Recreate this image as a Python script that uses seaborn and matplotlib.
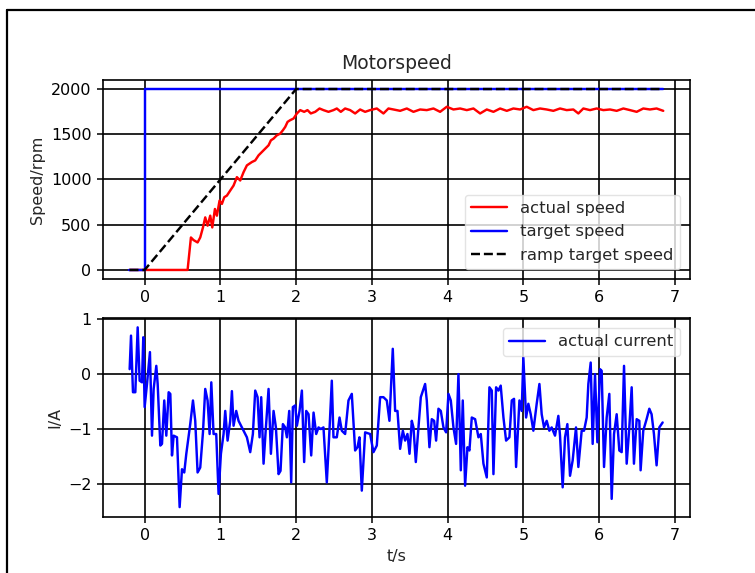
import matplotlib
matplotlib.use("Agg")
import matplotlib.pyplot as plt
from matplotlib.lines import Line2D
import seaborn as sns

# Speed signals (rpm)
target_t = [-0.2, 0.0, 0.0, 6.85]
target_speed = [0, 0, 2000, 2000]

ramp_t = [-0.2, 0.0, 2.0, 6.85]
ramp_speed = [0, 0, 2000, 2000]

actual_t = [-0.2, 0.0, 0.567, 0.611, 0.646, 0.699, 0.734, 0.770, 0.800, 0.831,
            0.866, 0.893, 0.928, 0.954, 0.989, 1.020, 1.051, 1.086, 1.130, 1.174,
            1.218, 1.262, 1.306, 1.350, 1.416, 1.460, 1.504, 1.548, 1.592, 1.636,
            1.667, 1.702, 1.746, 1.790, 1.825, 1.856, 1.887, 1.922, 1.966, 2.010,
            2.054, 2.106, 2.150, 2.194, 2.252, 2.309, 2.361, 2.427, 2.493, 2.537,
            2.590, 2.647, 2.713, 2.779, 2.845, 2.911, 2.977, 3.065, 3.153, 3.219,
            3.285, 3.373, 3.461, 3.549, 3.637, 3.725, 3.813, 3.901, 3.989, 4.077,
            4.165, 4.253, 4.341, 4.429, 4.517, 4.605, 4.693, 4.781, 4.868, 4.957,
            5.044, 5.132, 5.220, 5.308, 5.396, 5.484, 5.572, 5.660, 5.726, 5.792,
            5.880, 5.968, 6.056, 6.144, 6.232, 6.320, 6.408, 6.496, 6.583, 6.671,
            6.759, 6.847]
actual_speed = [0, 0, 0, 359, 330, 304, 359, 470, 581, 489,
                600, 470, 674, 600, 767, 730, 804, 822, 878, 933,
                1026, 989, 1081, 1156, 1193, 1211, 1267, 1304, 1341, 1378,
                1433, 1452, 1489, 1507, 1544, 1581, 1637, 1656, 1674, 1730,
                1767, 1748, 1767, 1730, 1748, 1785, 1767, 1748, 1767, 1785,
                1748, 1785, 1767, 1730, 1774, 1748, 1767, 1785, 1730, 1785,
                1774, 1759, 1785, 1748, 1774, 1767, 1785, 1748, 1804, 1774,
                1785, 1767, 1785, 1730, 1774, 1748, 1785, 1759, 1785, 1774,
                1804, 1767, 1785, 1774, 1759, 1785, 1767, 1774, 1730, 1785,
                1767, 1785, 1767, 1774, 1759, 1785, 1767, 1748, 1785, 1774,
                1785, 1759]

# Phase current (A)
current_t = [-0.198, -0.180, -0.154, -0.123, -0.092, -0.066, -0.035, -0.018, 0.000, 0.031,
             0.070, 0.097, 0.119, 0.154, 0.172, 0.207, 0.229, 0.259, 0.286, 0.317,
             0.339, 0.361, 0.383, 0.427, 0.462, 0.493, 0.523, 0.550, 0.602, 0.638,
             0.668, 0.699, 0.734, 0.770, 0.800, 0.831, 0.858, 0.880, 0.910, 0.945,
             0.976, 1.007, 1.042, 1.064, 1.095, 1.130, 1.152, 1.174, 1.209, 1.240,
             1.284, 1.350, 1.394, 1.429, 1.460, 1.491, 1.517, 1.539, 1.570, 1.601,
             1.636, 1.667, 1.702, 1.733, 1.768, 1.794, 1.825, 1.856, 1.878, 1.909,
             1.935, 1.957, 1.988, 2.010, 2.045, 2.076, 2.106, 2.133, 2.164, 2.199,
             2.230, 2.265, 2.296, 2.326, 2.361, 2.405, 2.441, 2.471, 2.493, 2.537,
             2.573, 2.603, 2.647, 2.691, 2.735, 2.779, 2.810, 2.836, 2.867, 2.911,
             2.977, 3.021, 3.065, 3.109, 3.153, 3.197, 3.232, 3.276, 3.307, 3.338,
             3.373, 3.409, 3.439, 3.470, 3.497, 3.527, 3.549, 3.580, 3.615, 3.646,
             3.703, 3.725, 3.760, 3.791, 3.822, 3.848, 3.879, 3.910, 3.945, 3.980,
             4.011, 4.042, 4.077, 4.112, 4.143, 4.174, 4.200, 4.231, 4.262, 4.288,
             4.319, 4.363, 4.407, 4.438, 4.473, 4.517, 4.552, 4.583, 4.605, 4.640,
             4.671, 4.701, 4.737, 4.772, 4.816, 4.847, 4.877, 4.904, 4.948, 4.978,
             5.000, 5.036, 5.066, 5.097, 5.132, 5.176, 5.212, 5.242, 5.273, 5.308,
             5.343, 5.374, 5.418, 5.462, 5.484, 5.519, 5.550, 5.581, 5.616, 5.651,
             5.695, 5.726, 5.770, 5.801, 5.836, 5.858, 5.889, 5.915, 5.946, 5.977,
             6.012, 6.034, 6.065, 6.100, 6.135, 6.166, 6.197, 6.232, 6.267, 6.298,
             6.329, 6.364, 6.399, 6.430, 6.460, 6.496, 6.531, 6.548, 6.583, 6.627,
             6.663, 6.693, 6.724, 6.759, 6.795, 6.839]
current_a = [0.09, 0.70, -0.33, -0.33, 0.85, -0.12, -0.15, 0.67, -0.60, -0.18,
             0.40, -1.12, -0.27, 0.15, -0.18, -1.30, -1.27, -0.48, -1.12, -0.33,
             -0.36, -1.48, -1.12, -1.15, -2.42, -1.73, -1.79, -1.45, -0.91, -0.48,
             -0.85, -1.79, -1.70, -1.06, -0.27, -0.48, -1.09, -0.15, -1.09, -1.09,
             -2.18, -1.45, -1.09, -0.67, -1.21, -0.85, -0.31, -0.94, -0.67, -0.85,
             -0.97, -1.15, -1.42, -1.09, -0.30, -0.42, -1.15, -0.42, -1.63, -0.97,
             -0.27, -1.45, -0.67, -0.97, -1.82, -1.76, -0.91, -0.97, -1.15, -0.67,
             -1.97, -0.60, -0.57, -0.94, -0.67, -0.30, -1.60, -0.67, -0.73, -1.48,
             -0.70, -1.09, -0.97, -1.00, -0.97, -1.97, -1.00, -0.12, -1.15, -1.15,
             -0.79, -1.03, -1.09, -0.48, -0.36, -1.39, -1.33, -1.15, -2.12, -1.06,
             -1.09, -1.42, -1.30, -0.42, -0.42, -0.48, -0.85, 0.46, -0.67, -0.67,
             -1.36, -1.03, -1.21, -1.09, -1.45, -0.85, -0.97, -1.60, -0.97, -0.42,
             -0.18, -0.48, -1.33, -0.82, -0.85, -1.21, -0.63, -0.67, -0.97, -1.06,
             -0.36, -0.48, -0.97, -1.27, 0.00, -1.75, -0.48, -2.03, -1.33, -1.39,
             -0.79, -0.82, -1.15, -1.09, -1.63, -1.88, -0.24, -0.30, -1.82, -0.24,
             -0.30, -0.21, -0.79, -1.21, -1.15, -0.48, -0.45, -1.69, -0.48, -0.67,
             0.30, -0.79, -0.54, -0.73, -1.03, -0.54, -0.18, -0.73, -0.97, -0.85,
             -1.03, -0.97, -1.12, -0.76, -1.12, -2.06, -1.15, -0.91, -1.85, -1.57,
             -0.97, -1.69, -1.03, -1.03, -0.79, -0.18, 0.21, -1.27, 0.00, -1.24,
             0.09, 0.06, -1.69, -0.79, -0.36, -2.27, -1.09, -0.73, -1.39, -1.42,
             0.15, -1.63, -0.97, -0.24, -1.63, -0.82, -0.85, -1.75, -1.03, -0.82,
             -0.63, -0.73, -1.09, -1.66, -0.97, -0.88]

x_ticks = [0, 1, 2, 3, 4, 5, 6, 7]
speed_ticks = [0, 500, 1000, 1500, 2000]
current_ticks = [-2, -1, 0, 1]

sns.set_theme(style="ticks")
plt.rcParams["font.family"] = ["DejaVu Sans"]
plt.rcParams.update({
    "font.size": 11.5,
    "axes.edgecolor": "black",
    "axes.linewidth": 1.2,
    "xtick.color": "black",
    "ytick.color": "black",
    "xtick.major.size": 4.2,
    "ytick.major.size": 4.2,
    "xtick.major.width": 1.1,
    "ytick.major.width": 1.1,
})

fig = plt.figure(figsize=(7.55, 5.73), dpi=100)
fig.patch.set_facecolor("white")
ax1 = fig.add_axes([0.1364, 0.5131, 0.7775, 0.3473])
ax2 = fig.add_axes([0.1364, 0.0977, 0.7775, 0.3473])

lw = 1.75
sns.lineplot(x=actual_t, y=actual_speed, ax=ax1, color="red", lw=lw,
             label="actual speed", estimator=None, sort=False)
sns.lineplot(x=target_t, y=target_speed, ax=ax1, color="blue", lw=lw,
             label="target speed", estimator=None, sort=False)
sns.lineplot(x=ramp_t, y=ramp_speed, ax=ax1, color="black", lw=lw,
             linestyle="--", label="ramp target speed", estimator=None, sort=False)

sns.lineplot(x=current_t, y=current_a, ax=ax2, color="blue", lw=lw,
             label="actual current", estimator=None, sort=False)

for ax in (ax1, ax2):
    ax.set_xlim(-0.55, 7.2)
    ax.set_xticks(x_ticks)
    ax.grid(True, color="black", linewidth=1.2)
    ax.tick_params(labelsize=11.5, pad=4)
    ax.set_facecolor("white")

ax1.set_ylim(-100, 2100)
ax1.set_yticks(speed_ticks)
ax1.set_title("Motorspeed", fontsize=13.5, pad=8)
ax1.set_ylabel("Speed/rpm", fontsize=11.5)
ax1.set_xlabel("")
ax1.legend(loc="lower right", fontsize=11.8, frameon=True, framealpha=0.8,
           edgecolor="#dddddd", fancybox=True, borderaxespad=0.6, handlelength=2.2)

ax2.set_ylim(-2.6, 1.02)
ax2.set_yticks(current_ticks)
ax2.set_ylabel("I/A", fontsize=11.5)
ax2.set_xlabel("t/s", fontsize=11.5)
ax2.legend(loc="upper right", fontsize=11.8, frameon=True, framealpha=0.8,
           edgecolor="#dddddd", fancybox=True, borderaxespad=0.6, handlelength=2.2)

# Frame around the left and top of the figure
fig.add_artist(Line2D([6.5 / 755, 6.5 / 755], [0, 1 - 10 / 573],
                      transform=fig.transFigure, color="black", lw=1.6))
fig.add_artist(Line2D([6.5 / 755, 1], [1 - 10 / 573, 1 - 10 / 573],
                      transform=fig.transFigure, color="black", lw=1.6))

fig.savefig("out.png", dpi=100)
